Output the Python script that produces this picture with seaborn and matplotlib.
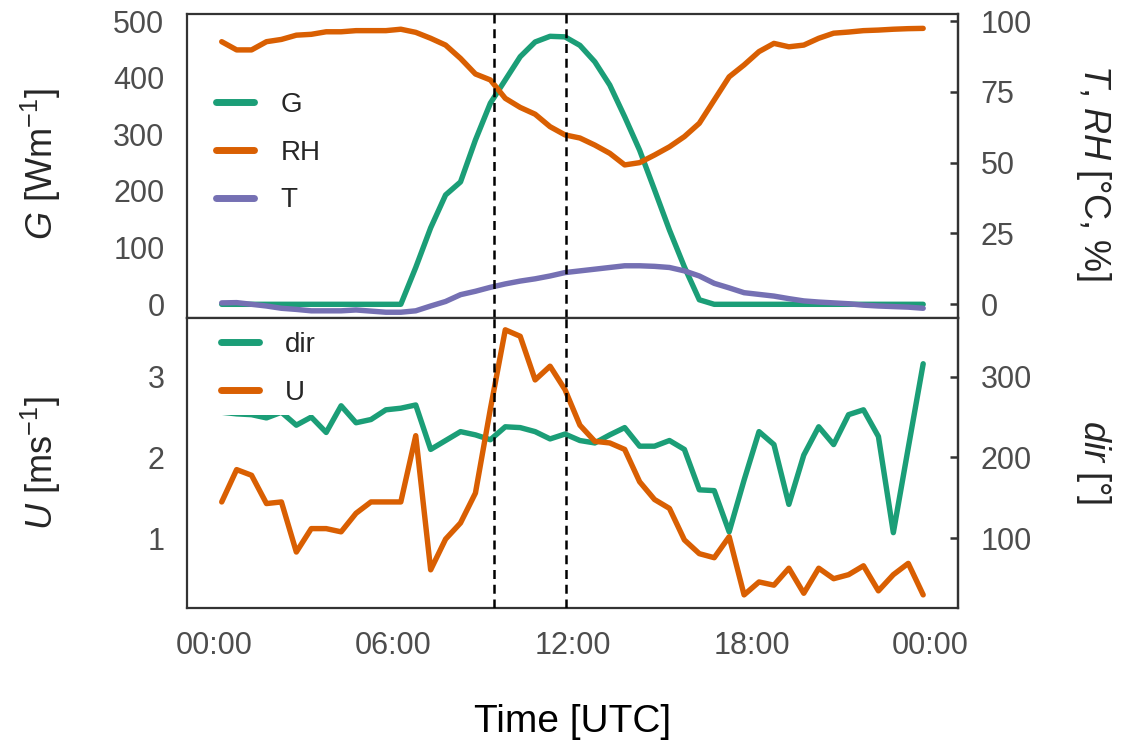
import numpy as np
import pandas as pd
import seaborn as sns
import matplotlib.pyplot as plt
from matplotlib.lines import Line2D

sns.set_style('white')
plt.rcParams['font.family'] = ['Liberation Sans', 'DejaVu Sans']
plt.rcParams['mathtext.fontset'] = 'custom'
plt.rcParams['mathtext.rm'] = 'Liberation Sans'
plt.rcParams['mathtext.it'] = 'Liberation Sans:italic'
plt.rcParams['mathtext.bf'] = 'Liberation Sans:bold'

# half-hourly values, 00:15 ... 23:45 UTC
hours = np.arange(0.25, 24, 0.5)

G = [0, 0, 0, 0, 0, 0, 0, 0, 0, 0, 0, 0,
     0, 65, 135, 193, 216, 290, 355, 396, 437, 463, 473, 472,
     457, 428, 387, 331, 272, 202, 131, 66, 8, 0, 0, 0,
     0, 0, 0, 0, 0, 0, 0, 0, 0, 0, 0, 0]
RH = [92.7, 89.8, 89.8, 92.7, 93.5, 95.0, 95.3, 96.2, 96.2, 96.6, 96.6, 96.6,
      97.1, 96.0, 93.9, 91.5, 86.8, 81.3, 79.2, 72.7, 69.5, 67.1, 62.7, 59.8,
      58.7, 56.2, 53.3, 49.2, 50.0, 52.7, 55.6, 59.2, 63.9, 72.1, 80.3, 84.5,
      89.2, 92.1, 90.9, 91.5, 93.9, 95.7, 96.1, 96.6, 96.8, 97.1, 97.3, 97.4]
T = [0.5, 0.6, 0.0, -0.6, -1.4, -1.8, -2.3, -2.3, -2.3, -2.0, -2.4, -2.8,
     -2.8, -2.3, -0.6, 1.0, 3.4, 4.6, 6.0, 7.2, 8.2, 9.0, 10.0, 11.2,
     11.8, 12.4, 13.0, 13.6, 13.6, 13.4, 13.0, 11.8, 10.0, 7.4, 5.8, 4.1,
     3.5, 2.9, 2.0, 1.2, 0.8, 0.5, 0.2, -0.3, -0.6, -0.8, -1.0, -1.4]
U = [1.45, 1.85, 1.78, 1.43, 1.45, 0.83, 1.12, 1.12, 1.08, 1.31, 1.45, 1.45,
     1.45, 2.27, 0.61, 0.99, 1.19, 1.56, 2.60, 3.58, 3.50, 2.96, 3.13, 2.84,
     2.40, 2.20, 2.18, 2.10, 1.70, 1.48, 1.37, 0.98, 0.81, 0.76, 1.02, 0.30,
     0.46, 0.42, 0.63, 0.32, 0.63, 0.50, 0.55, 0.66, 0.35, 0.55, 0.69, 0.30]
wdir = [256, 254, 253, 249, 256, 240, 250, 231, 264, 243, 247, 259,
        261, 265, 210, 221, 232, 228, 222, 238, 237, 232, 223, 229,
        221, 218, 228, 237, 214, 214, 221, 210, 160, 159, 108, 172,
        232, 216, 142, 203, 238, 216, 253, 259, 226, 107, 212, 316]

events = [9.38, 11.77]
xticks = [0, 6, 12, 18, 24]
xticklabels = ['00:00', '06:00', '12:00', '18:00', '00:00']

colors = {'G': '#1B9E77', 'RH': '#D95F02', 'T': '#7570B3',
          'dir': '#1B9E77', 'U': '#D95F02'}

# secondary axes as in the original: T/RH = G/5, dir = U*100
top_scale = 5.0
bot_scale = 100.0

df = pd.DataFrame({'hours': hours, 'G': G, 'RH': RH, 'T': T, 'U': U, 'dir': wdir})

fig = plt.figure(figsize=(11.23, 7.46), dpi=100)
ax1 = fig.add_axes([0.1662, 0.5737, 0.6871, 0.4071])
ax2 = fig.add_axes([0.1662, 0.1846, 0.6871, 0.3891], sharex=ax1)

lw = 3.9
sns.lineplot(x=df['hours'], y=df['G'], ax=ax1, color=colors['G'], linewidth=lw)
sns.lineplot(x=df['hours'], y=df['RH'] * top_scale, ax=ax1, color=colors['RH'], linewidth=lw)
sns.lineplot(x=df['hours'], y=df['T'] * top_scale, ax=ax1, color=colors['T'], linewidth=lw)

sns.lineplot(x=df['hours'], y=df['dir'] / bot_scale, ax=ax2, color=colors['dir'], linewidth=lw)
sns.lineplot(x=df['hours'], y=df['U'], ax=ax2, color=colors['U'], linewidth=lw)

for ax in (ax1, ax2):
    for e in events:
        ax.axvline(e, color='black', lw=1.8, dashes=(3.6, 2.3), zorder=5)

ax1.set_xlim(-0.925, 24.925)
ax1.set_ylim(-24.2, 511.8)
ax2.set_ylim(0.134, 3.726)

ax1.set_yticks([0, 100, 200, 300, 400, 500])
ax2.set_yticks([1, 2, 3])
ax2.set_xticks(xticks)
ax2.set_xticklabels(xticklabels)

sec1 = ax1.secondary_yaxis('right', functions=(lambda y: y / top_scale, lambda y: y * top_scale))
sec1.set_yticks([0, 25, 50, 75, 100])
sec2 = ax2.secondary_yaxis('right', functions=(lambda y: y * bot_scale, lambda y: y / bot_scale))
sec2.set_yticks([100, 200, 300])

tick_kw = dict(direction='in', length=6, width=1.8, color='#333333',
               labelcolor='#4D4D4D', labelsize=22, pad=16)
for a in (ax1, ax2, sec1, sec2):
    a.tick_params(axis='y', **tick_kw)
ax2.tick_params(axis='x', **tick_kw)
ax1.tick_params(axis='x', bottom=False, labelbottom=False)

for a in (ax1, ax2, sec1, sec2):
    for s in a.spines.values():
        s.set_color('#333333')
        s.set_linewidth(1.6)

for a in (ax1, ax2):
    a.set_xlabel('')
    a.set_ylabel('')

ax2.set_xlabel('Time [UTC]', fontsize=28, labelpad=31, color='black')

fig.text(0.0365, 0.780, '$G$ [Wm$^{-1}$]', rotation=90, ha='center', va='center', fontsize=26)
fig.text(0.974, 0.769, '$T$, $RH$ [°C, %]', rotation=270, ha='center', va='center', fontsize=26)
fig.text(0.0365, 0.380, '$U$ [ms$^{-1}$]', rotation=90, ha='center', va='center', fontsize=26)
fig.text(0.974, 0.380, '$dir$ [°]', rotation=270, ha='center', va='center', fontsize=26)

leg_kw = dict(fontsize=20, handlelength=1.35, handletextpad=0.95, labelspacing=0.78,
              frameon=True, framealpha=1, facecolor='white', edgecolor='none',
              borderaxespad=0, borderpad=0.35, loc='upper left')
h1 = [Line2D([], [], color=colors[k], lw=5) for k in ['G', 'RH', 'T']]
ax1.legend(h1, ['G', 'RH', 'T'], bbox_to_anchor=(0.026, 0.776), **leg_kw)
h2 = [Line2D([], [], color=colors[k], lw=5) for k in ['dir', 'U']]
ax2.legend(h2, ['dir', 'U'], bbox_to_anchor=(0.032, 0.985), **leg_kw)

fig.savefig('out.png', dpi=100)
